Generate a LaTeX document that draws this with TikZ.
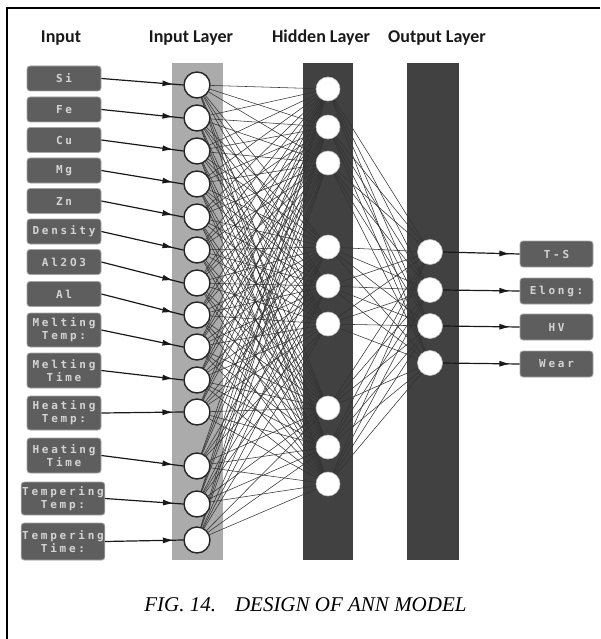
\documentclass[tikz,border=0pt]{standalone}
\usepackage{fontspec}
\setmainfont{Liberation Serif}
\newfontfamily\boxfont[LetterSpace=25]{DejaVu Sans Mono Bold}
\newfontfamily\headfont{Carlito}
\usetikzlibrary{arrows.meta,calc,decorations.markings}
\definecolor{boxgray}{HTML}{5E5E5E}
\definecolor{boxtext}{HTML}{D4D4D4}
\definecolor{layerdark}{HTML}{414141}
\definecolor{layerlight}{HTML}{ABABAB}
\pgfdeclarelayer{back}
\pgfdeclarelayer{wires}
\pgfsetlayers{back,wires,main}
\tikzset{
  inbox/.style={fill=boxgray, draw=boxgray!55, line width=0.8pt, rounded corners=3pt, text=boxtext,
    font=\boxfont\fontsize{11}{13}\selectfont, minimum width=74pt, minimum height=25pt,
    inner sep=1pt, align=center},
  innode/.style={circle, fill=white, draw=black!85, line width=1.4pt, minimum size=26pt, inner sep=0pt},
  darknode/.style={circle, fill=white, draw=white!75!black, line width=0.6pt, minimum size=24pt, inner sep=0pt},
  layerhead/.style={font=\headfont\bfseries\fontsize{18}{18}\selectfont, text=black!90},
  conn/.style={line width=0.55pt, black!80},
  arr/.style={line width=1.2pt, black!90, postaction={decorate},
    decoration={markings, mark=at position 0.88 with {\arrow{Latex[length=11pt,width=6pt]}}}},
}
\begin{document}
\begin{tikzpicture}[x=1pt,y=-1pt]
\useasboundingbox (0,0) rectangle (600,639);
% frame
\draw[line width=2.5pt, black] (600,8) -- (7,8) -- (7,639);
% headings
\node[layerhead] (hIn) at (61,38) {Input};
\node[layerhead] (hInL) at (191,38) {Input Layer};
\node[layerhead] (hHid) at (321,38) {Hidden Layer};
\node[layerhead] (hOut) at (437,38) {Output Layer};
% layer bands
\begin{pgfonlayer}{back}
\fill[layerlight] (172,63) rectangle (223,560);
\fill[layerdark] (303,63) rectangle (353,560);
\fill[layerdark] (407,63) rectangle (459,560);
\end{pgfonlayer}
% input boxes
\node[inbox] (b1) at (64,78.5) {Si};
\node[inbox] (b2) at (64,109.5) {Fe};
\node[inbox] (b3) at (64,140) {Cu};
\node[inbox] (b4) at (64,170.5) {Mg};
\node[inbox] (b5) at (64,201) {Zn};
\node[inbox] (b6) at (64,231.5) {Density};
\node[inbox] (b7) at (64,262) {Al2O3};
\node[inbox] (b8) at (64,294) {Al};
\node[inbox, minimum height=34pt] (b9) at (64,330) {Melting\\Temp:};
\node[inbox, minimum height=35pt] (b10) at (64,370.5) {Melting\\Time};
\node[inbox, minimum height=34pt] (b11) at (64,413) {Heating\\Temp:};
\node[inbox, minimum height=35pt] (b12) at (64,455.5) {Heating\\Time};
\node[inbox, minimum height=33pt, minimum width=82pt] (b13) at (63,498.5) {Tempering\\Temp:};
\node[inbox, minimum height=37pt, minimum width=82pt] (b14) at (63,541.5) {Tempering\\Time:};
% input layer nodes
\foreach \n/\y in {1/85,2/118,3/151,4/184,5/217,6/250,7/283,8/315,9/347,10/380,11/412,12/466,13/504,14/540}
  \node[innode] (i\n) at (197,\y) {};
% hidden nodes
\foreach \n/\y in {1/89,2/127,3/163,4/247,5/286,6/324,7/408,8/447,9/484}
  \node[darknode] (h\n) at (328,\y) {};
% output nodes
\foreach \n/\y in {1/252,2/290,3/326,4/363}
  \node[darknode, minimum size=25pt] (o\n) at (430,\y) {};
% output boxes
\node[inbox, minimum width=73pt, minimum height=26pt] (ob1) at (556.5,254) {T-S};
\node[inbox, minimum width=73pt, minimum height=26pt] (ob2) at (556.5,291) {Elong:};
\node[inbox, minimum width=73pt, minimum height=26pt] (ob3) at (556.5,327) {HV};
\node[inbox, minimum width=73pt, minimum height=26pt] (ob4) at (556.5,364) {Wear};
% connections
\begin{pgfonlayer}{wires}
\foreach \i in {1,...,14}
  \foreach \j in {1,...,9}
    \draw[conn] (i\i) -- (h\j);
\foreach \j in {1,...,9}
  \foreach \k in {1,...,4}
    \draw[conn] (h\j) -- (o\k);
\end{pgfonlayer}
% input arrows
\foreach \n in {1,...,14}
  \draw[arr] (b\n.east) -- (i\n.west);
% output arrows
\foreach \n in {1,...,4}
  \draw[arr] (o\n.east) -- (ob\n.west);
% caption
\node[font=\itshape\fontsize{21}{21}\selectfont] (cap) at (305.5,605) {FIG.\ 14.\hspace{0.9em}DESIGN OF ANN MODEL};
\end{tikzpicture}
\end{document}
